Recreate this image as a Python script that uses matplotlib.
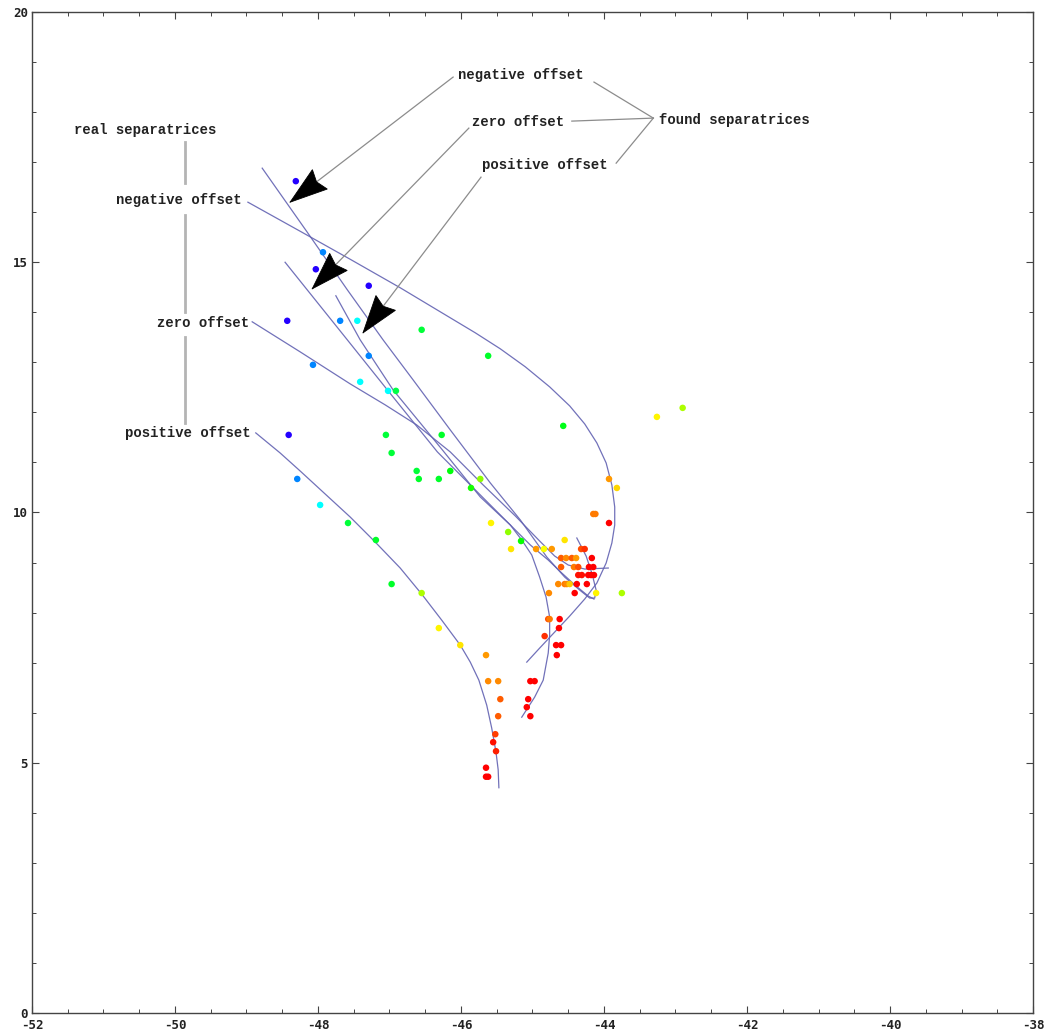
import numpy as np
import matplotlib
matplotlib.use("Agg")
import matplotlib.pyplot as plt
import matplotlib.transforms as mtransforms
from matplotlib.colors import hsv_to_rgb
from matplotlib.patches import Polygon
from matplotlib.ticker import MultipleLocator

plt.rcParams["axes.unicode_minus"] = False

# ---- sampled trajectory points (x, y, hue of the time step) ----
pt_x = [-48.31, -47.93, -48.03, -47.29, -48.43, -47.69, -47.45, -46.55, -45.62, -47.29,
        -48.07, -47.41, -47.02, -46.91, -48.41, -47.05, -46.27, -46.97, -44.57, -43.26,
        -42.90, -46.62, -46.59, -46.31, -46.15, -45.86, -45.73, -43.93, -43.82, -48.29,
        -44.15, -44.12, -43.93, -47.97, -47.58, -45.58, -45.34, -45.16, -47.19, -44.55,
        -45.30, -44.95, -44.84, -44.73, -44.32, -44.27, -44.60, -44.53, -44.45, -44.39,
        -44.17, -44.60, -44.42, -44.36, -44.21, -44.15, -44.36, -44.31, -44.22, -44.18,
        -44.14, -44.64, -44.55, -44.52, -44.48, -44.38, -44.24, -44.77, -44.41, -44.11,
        -43.75, -46.97, -46.55, -46.31, -46.01, -45.65, -45.62, -45.48, -45.45, -45.48,
        -45.52, -45.55, -45.51, -45.65, -45.65, -45.62, -44.78, -44.76, -44.62, -44.63,
        -44.83, -44.67, -44.60, -44.66, -45.03, -44.97, -45.06, -45.08, -45.03]
pt_y = [16.62, 15.20, 14.86, 14.53, 13.83, 13.83, 13.83, 13.65, 13.13, 13.13,
        12.95, 12.61, 12.43, 12.43, 11.55, 11.55, 11.55, 11.19, 11.73, 11.91,
        12.09, 10.83, 10.67, 10.67, 10.83, 10.49, 10.67, 10.67, 10.49, 10.67,
        9.97, 9.97, 9.79, 10.15, 9.79, 9.79, 9.61, 9.43, 9.45, 9.45,
        9.27, 9.27, 9.27, 9.27, 9.27, 9.27, 9.09, 9.09, 9.09, 9.09,
        9.09, 8.91, 8.91, 8.91, 8.91, 8.91, 8.75, 8.75, 8.75, 8.75,
        8.75, 8.57, 8.57, 8.57, 8.57, 8.57, 8.57, 8.39, 8.39, 8.39,
        8.39, 8.57, 8.39, 7.69, 7.35, 7.15, 6.63, 6.63, 6.27, 5.93,
        5.57, 5.41, 5.23, 4.90, 4.72, 4.72, 7.87, 7.87, 7.87, 7.69,
        7.53, 7.35, 7.35, 7.15, 6.63, 6.63, 6.27, 6.11, 5.93]
pt_hue = [0.69, 0.58, 0.69, 0.69, 0.69, 0.58, 0.50, 0.37, 0.36, 0.58,
          0.58, 0.50, 0.50, 0.38, 0.69, 0.37, 0.36, 0.37, 0.35, 0.16,
          0.22, 0.37, 0.36, 0.36, 0.34, 0.32, 0.24, 0.10, 0.14, 0.58,
          0.08, 0.08, 0.00, 0.50, 0.37, 0.16, 0.24, 0.33, 0.36, 0.15,
          0.15, 0.10, 0.17, 0.10, 0.05, 0.03, 0.06, 0.09, 0.06, 0.10,
          0.00, 0.06, 0.08, 0.05, 0.00, 0.00, 0.01, 0.01, 0.00, 0.00,
          0.00, 0.09, 0.08, 0.09, 0.13, 0.00, 0.00, 0.09, 0.00, 0.16,
          0.22, 0.36, 0.22, 0.16, 0.15, 0.10, 0.09, 0.09, 0.06, 0.06,
          0.04, 0.01, 0.02, 0.00, 0.00, 0.00, 0.05, 0.08, 0.00, 0.00,
          0.03, 0.00, 0.00, 0.00, 0.00, 0.00, 0.00, 0.00, 0.00]

# ---- real separatrices ----
real_neg_x = [-48.98, -48.25, -47.55, -46.85, -46.15, -45.80, -45.45, -45.10, -44.76, -44.48,
              -44.27, -44.10, -43.97, -43.89, -43.85, -43.85, -43.89, -43.97, -44.10, -44.27,
              -44.48, -44.69, -44.90, -45.08]
real_neg_y = [16.20, 15.62, 15.06, 14.49, 13.89, 13.59, 13.27, 12.91, 12.51, 12.13,
              11.77, 11.39, 10.99, 10.55, 10.11, 9.75, 9.39, 8.99, 8.59, 8.27,
              7.93, 7.61, 7.29, 7.01]
real_zero_x = [-48.92, -48.25, -47.55, -47.06, -46.62, -46.15, -45.69, -45.24, -44.90, -44.69,
               -44.50, -44.27, -43.94]
real_zero_y = [13.81, 13.21, 12.57, 12.15, 11.75, 11.21, 10.55, 9.93, 9.43, 9.13,
               8.95, 8.87, 8.89]
real_pos_x = [-48.87, -48.53, -48.25, -47.90, -47.55, -47.20, -46.85, -46.55, -46.27, -46.01,
              -45.87, -45.75, -45.64, -45.57, -45.51, -45.48, -45.47]
real_pos_y = [11.59, 11.19, 10.83, 10.37, 9.91, 9.41, 8.89, 8.37, 7.85, 7.35,
              7.01, 6.65, 6.15, 5.69, 5.21, 4.86, 4.50]

# ---- found separatrices ----
found_neg_x = [-48.78, -48.15, -47.59, -47.09, -46.67, -46.15, -45.59, -45.17, -44.80, -44.55,
               -44.34, -44.20, -44.13, -44.11, -44.17, -44.25, -44.38]
found_neg_y = [16.88, 15.60, 14.45, 13.45, 12.65, 11.65, 10.59, 9.85, 9.11, 8.71,
               8.45, 8.29, 8.29, 8.45, 8.79, 9.13, 9.49]
found_zero_x = [-48.46, -47.59, -47.03, -46.33, -45.59, -45.03, -44.78, -44.59, -44.39, -44.22, -44.14]
found_zero_y = [15.00, 13.45, 12.45, 11.21, 10.15, 9.35, 9.05, 8.79, 8.53, 8.33, 8.27]
found_pos_x = [-47.75, -47.41, -46.95, -46.26, -45.73, -45.31, -45.15, -45.01, -44.90, -44.81,
               -44.76, -44.76, -44.78, -44.85, -44.97, -45.15]
found_pos_y = [14.33, 13.45, 12.45, 11.25, 10.31, 9.75, 9.45, 9.15, 8.71, 8.31,
               7.91, 7.55, 7.19, 6.65, 6.31, 5.91]

x_ticks = [-52, -50, -48, -46, -44, -42, -40, -38]
y_ticks = [0, 5, 10, 15, 20]

LABEL_FONT = dict(family="Liberation Mono", fontweight="bold", fontsize=10, color="#222222")
CURVE = dict(color="#6262b2", lw=0.9, alpha=0.9, zorder=2)

fig = plt.figure(figsize=(10.48, 10.35), dpi=100)
ax = fig.add_axes([0.0305, 0.0213, 0.9552, 0.9671])
ax.set_xlim(-52, -38)
ax.set_ylim(0, 20)

for xs, ys in [(real_neg_x, real_neg_y), (real_zero_x, real_zero_y), (real_pos_x, real_pos_y),
               (found_neg_x, found_neg_y), (found_zero_x, found_zero_y), (found_pos_x, found_pos_y)]:
    ax.plot(xs, ys, solid_joinstyle="round", **CURVE)

colors = [hsv_to_rgb((h, 1.0, 1.0)) for h in pt_hue]
ax.scatter(pt_x, pt_y, s=22, c=colors, edgecolors="none", zorder=3)

# ---- annotations: real separatrices ----
ax.text(-50.42, 17.64, "real separatrices", ha="center", va="center", **LABEL_FONT)
ax.text(-49.94, 16.24, "negative offset", ha="center", va="center", **LABEL_FONT)
ax.text(-49.61, 13.79, "zero offset", ha="center", va="center", **LABEL_FONT)
ax.text(-49.82, 11.59, "positive offset", ha="center", va="center", **LABEL_FONT)
for y0, y1 in [(17.40, 16.58), (15.94, 14.01), (13.51, 11.79)]:
    ax.plot([-49.86, -49.86], [y0, y1], color="#b4b4b4", lw=2.0, zorder=1)

# ---- annotations: found separatrices ----
ax.text(-45.16, 18.74, "negative offset", ha="center", va="center", **LABEL_FONT)
ax.text(-45.20, 17.80, "zero offset", ha="center", va="center", **LABEL_FONT)
ax.text(-44.83, 16.94, "positive offset", ha="center", va="center", **LABEL_FONT)
ax.text(-42.18, 17.84, "found separatrices", ha="center", va="center", **LABEL_FONT)
for xe, ye in [(-44.14, 18.60), (-44.45, 17.82), (-43.83, 16.98)]:
    ax.plot([-43.31, xe], [17.88, ye], color="#8c8c8c", lw=0.9, zorder=1)


def arrow_head(tip, tail, length=27.0, half=8.8, notch=3.0):
    """Black notched arrowhead at `tip`, pointing away from `tail` (sizes in points)."""
    p0 = ax.transData.transform(tip)
    p1 = ax.transData.transform(tail)
    d = (p1 - p0) / np.hypot(*(p1 - p0))
    n = np.array([-d[1], d[0]])
    verts = np.array([[0.0, 0.0],
                      length * d + half * n,
                      (length - notch) * d,
                      length * d - half * n]) / 72.0
    trans = fig.dpi_scale_trans + mtransforms.ScaledTranslation(tip[0], tip[1], ax.transData)
    ax.add_patch(Polygon(verts, closed=True, transform=trans, facecolor="black",
                         edgecolor="black", lw=0.6, zorder=5))


arrows = [((-46.11, 18.70), (-48.39, 16.20)),
          ((-45.89, 17.68), (-48.08, 14.47)),
          ((-45.72, 16.70), (-47.37, 13.59))]
for (sx, sy), (tx, ty) in arrows:
    ax.plot([sx, tx], [sy, ty], color="#8c8c8c", lw=0.9, zorder=4)
    arrow_head((tx, ty), (sx, sy))

# ---- axes frame and ticks ----
ax.set_xticks(x_ticks)
ax.set_yticks(y_ticks)
ax.xaxis.set_minor_locator(MultipleLocator(0.5))
ax.yaxis.set_minor_locator(MultipleLocator(1))
ax.tick_params(which="both", direction="in", top=True, right=True, color="#444444")
ax.tick_params(which="major", length=5, width=0.8)
ax.tick_params(which="minor", length=3, width=0.7)
ax.tick_params(axis="x", which="major", pad=4.5)
ax.tick_params(axis="y", which="major", pad=3)
for lab in ax.get_xticklabels() + ax.get_yticklabels():
    lab.set_fontfamily("DejaVu Sans Mono")
    lab.set_fontweight("bold")
    lab.set_fontsize(9)
    lab.set_color("#222222")
for sp in ax.spines.values():
    sp.set_color("#444444")
    sp.set_linewidth(1.0)

fig.savefig("out.png", dpi=100)
